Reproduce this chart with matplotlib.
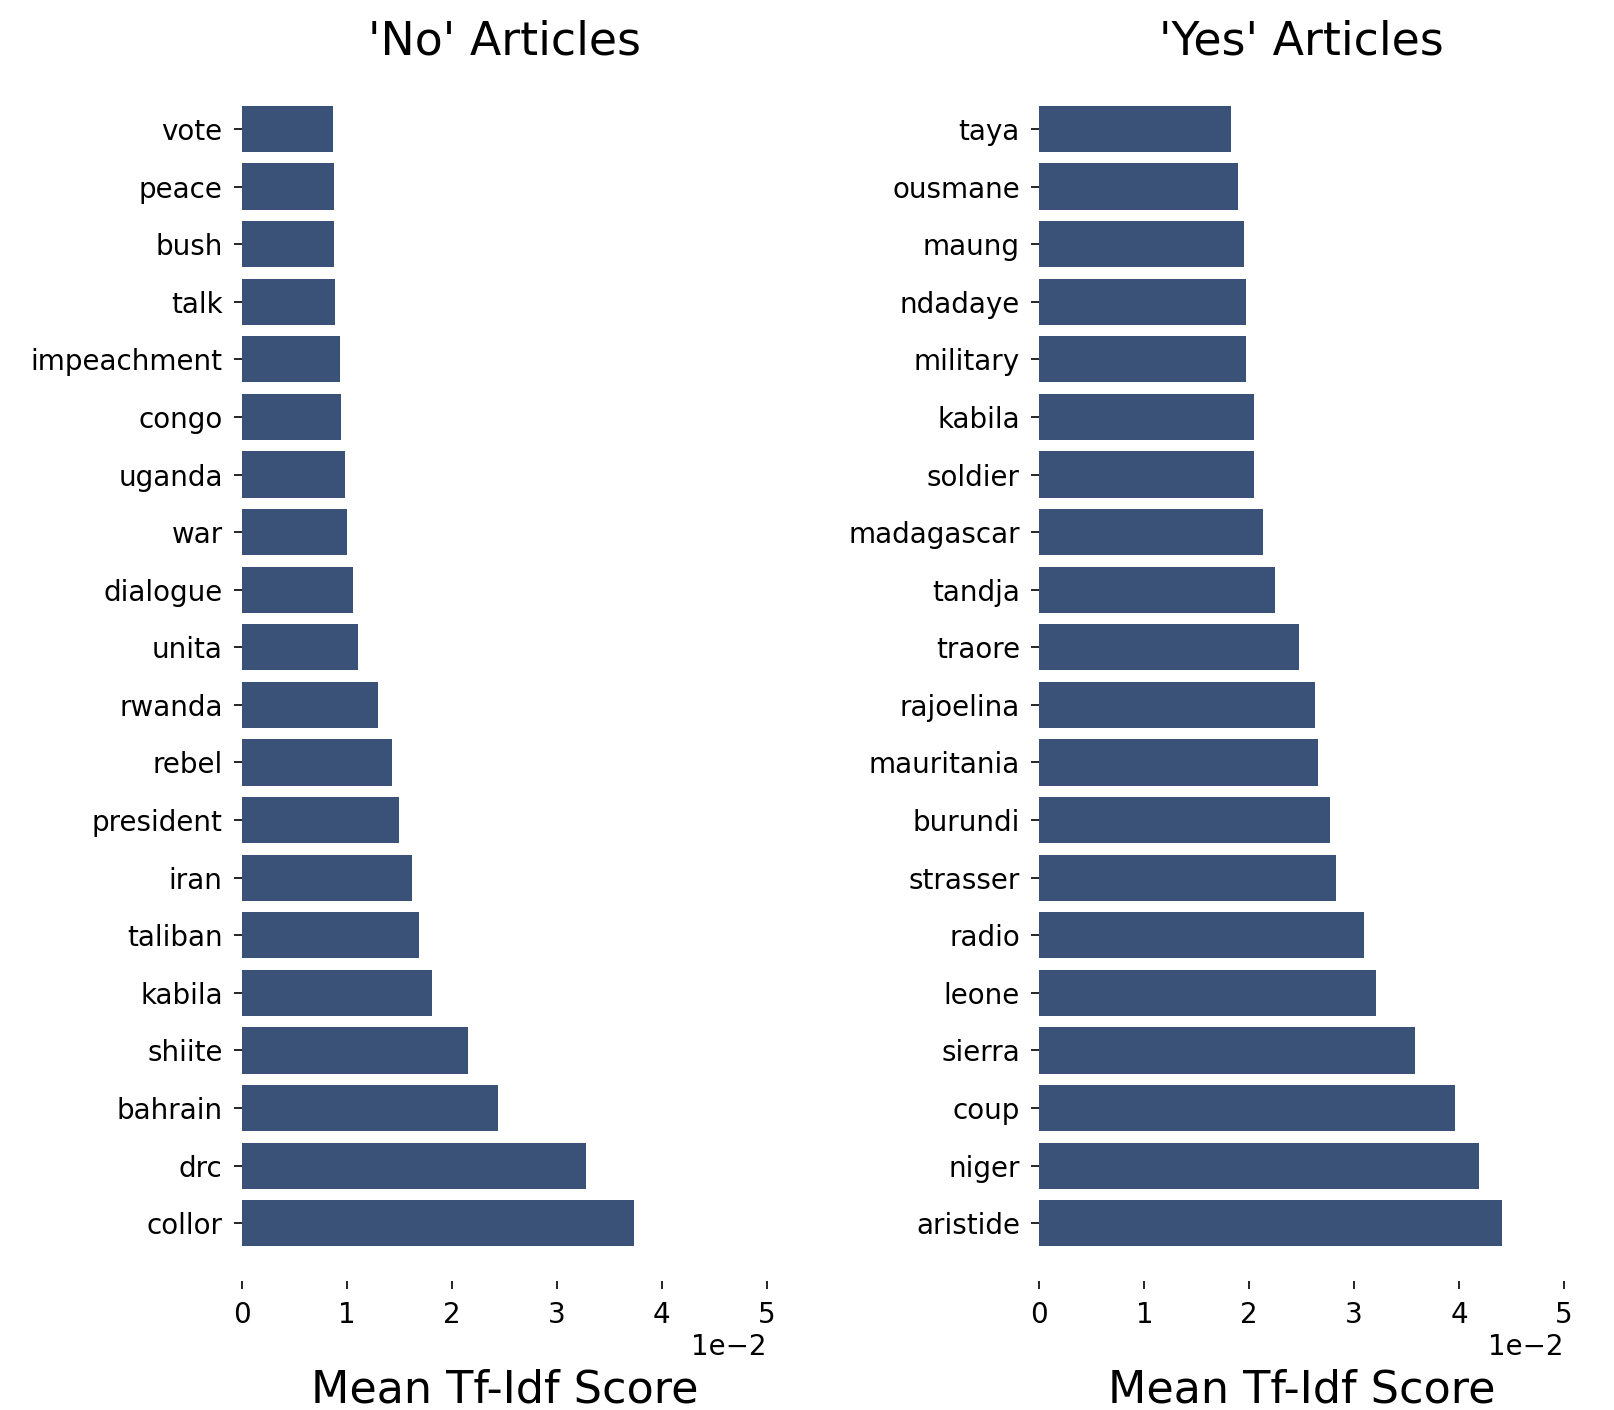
import numpy as np
import matplotlib.pyplot as plt
from matplotlib.ticker import ScalarFormatter

# top 20 words per class, mean tf-idf score
no_words = ["vote", "peace", "bush", "talk", "impeachment", "congo", "uganda", "war",
            "dialogue", "unita", "rwanda", "rebel", "president", "iran", "taliban",
            "kabila", "shiite", "bahrain", "drc", "collor"]
no_scores = [0.0087, 0.0088, 0.0088, 0.0089, 0.0093, 0.0094, 0.0098, 0.0100,
             0.0106, 0.0110, 0.0130, 0.0143, 0.0150, 0.0162, 0.0169,
             0.0181, 0.0215, 0.0244, 0.0328, 0.0374]

yes_words = ["taya", "ousmane", "maung", "ndadaye", "military", "kabila", "soldier",
             "madagascar", "tandja", "traore", "rajoelina", "mauritania", "burundi",
             "strasser", "radio", "leone", "sierra", "coup", "niger", "aristide"]
yes_scores = [0.0183, 0.0189, 0.0195, 0.0197, 0.0197, 0.0205, 0.0205,
              0.0213, 0.0225, 0.0247, 0.0263, 0.0266, 0.0277,
              0.0283, 0.0309, 0.0321, 0.0358, 0.0396, 0.0419, 0.0441]

bar_color = "#3a5278"

fig = plt.figure(figsize=(16.14, 14.10), dpi=100)
ax1 = fig.add_axes([0.150, 0.112, 0.325, 0.817])
ax2 = fig.add_axes([0.644, 0.112, 0.325, 0.817])

def draw(ax, words, scores, title):
    y = np.arange(len(words))
    ax.barh(y, scores, height=0.8, color=bar_color)
    ax.set_yticks(y)
    ax.set_yticklabels(words)
    ax.set_ylim(len(words) - 0.5, -0.5)
    ax.set_xlim(0, 0.05)
    ax.set_xticks([0, 0.01, 0.02, 0.03, 0.04, 0.05])
    fmt = ScalarFormatter(useMathText=False)
    fmt.set_powerlimits((-2, 2))
    ax.xaxis.set_major_formatter(fmt)
    ax.xaxis.get_offset_text().set_fontsize(20)
    for s in ax.spines.values():
        s.set_visible(False)
    ax.spines["bottom"].set_position(("outward", 21))
    ax.tick_params(axis="both", labelsize=20, length=6, width=1.2)
    ax.tick_params(axis="y", pad=8)
    ax.tick_params(axis="x", pad=8)
    ax.set_title(title, fontsize=33, pad=33)
    ax.set_xlabel("Mean Tf-Idf Score", fontsize=32, labelpad=29)

draw(ax1, no_words, no_scores, "'No' Articles")
draw(ax2, yes_words, yes_scores, "'Yes' Articles")

fig.savefig("out.png", dpi=100)
